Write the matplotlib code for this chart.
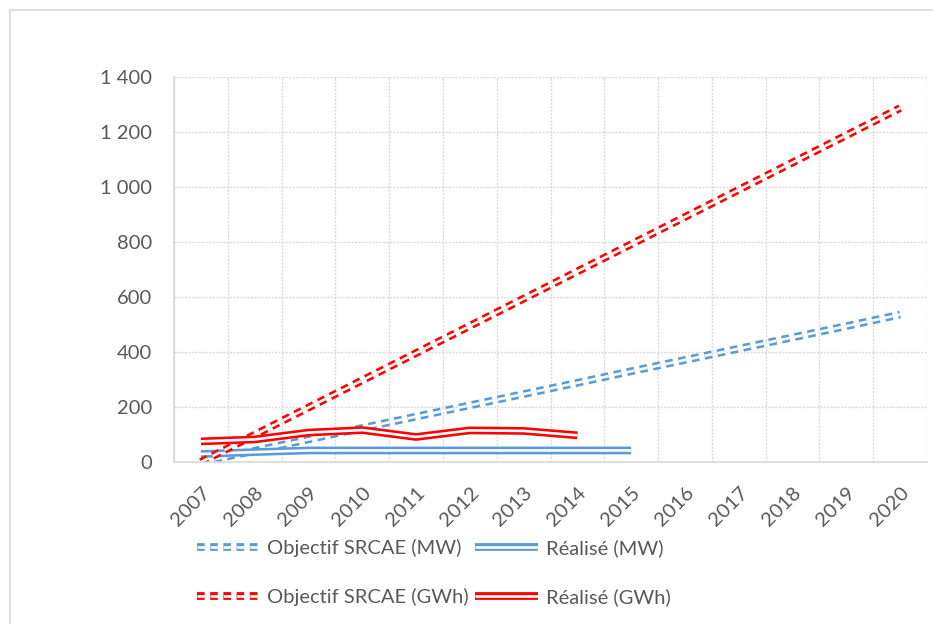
import matplotlib
matplotlib.use("Agg")
import matplotlib.pyplot as plt
import matplotlib.patheffects as pe
from matplotlib.patches import Rectangle
from matplotlib.ticker import FuncFormatter, MultipleLocator
import numpy as np

years = [str(y) for y in range(2007, 2021)]
obj_mw = [0, 41, 82, 124, 165, 206, 247, 288, 330, 371, 412, 453, 494, 536]
obj_gwh = [0, 99, 198, 297, 396, 495, 594, 693, 792, 891, 990, 1089, 1188, 1287]
real_mw = [29, 36, 42, 42, 42, 42, 42, 42, 42]            # 2007-2015
real_gwh = [75, 82, 107, 116, 91, 115, 113, 97]            # 2007-2014

BLUE = "#5B9BD5"
RED = "#FF0000"
GREY_TXT = "#595959"
GRID = "#D9D9D9"

plt.rcParams["font.family"] = ["Lato", "DejaVu Sans"]
plt.rcParams["lines.scale_dashes"] = False

fig = plt.figure(figsize=(9.33, 6.24), dpi=100)
ax = fig.add_axes([174 / 933, 1 - 462 / 624, (927 - 174) / 933, (462 - 77) / 624])

# outer chart border
fig.patches.append(Rectangle((10 / 933, -0.2), 1.2, 1.2 - 10 / 624, transform=fig.transFigure,
                             fill=False, edgecolor=GRID, linewidth=1.2))

# Excel style compound line: thick stroke with a thin white core
double = [pe.Normal(), pe.Stroke(linewidth=1.9, foreground="white")]

x_all = np.arange(len(years))
dash = (5.5, 4)
LW = 5.6

l1, = ax.plot(x_all, obj_mw, color=BLUE, lw=LW, dashes=dash, path_effects=double,
              label="Objectif SRCAE (MW)")
l2, = ax.plot(x_all[:len(real_mw)], real_mw, color=BLUE, lw=LW, path_effects=double,
              solid_capstyle="butt", solid_joinstyle="miter", label="Réalisé (MW)")
l3, = ax.plot(x_all, obj_gwh, color=RED, lw=LW, dashes=dash, path_effects=double,
              label="Objectif SRCAE (GWh)")
l4, = ax.plot(x_all[:len(real_gwh)], real_gwh, color=RED, lw=LW, path_effects=double,
              solid_capstyle="butt", solid_joinstyle="miter", label="Réalisé (GWh)")

ax.set_xlim(-0.5, len(years) - 0.5)
ax.set_ylim(0, 1400)
ax.yaxis.set_major_locator(MultipleLocator(200))
ax.yaxis.set_major_formatter(FuncFormatter(lambda v, p: f"{int(v):,}".replace(",", " ")))
ax.set_xticks(x_all)
ax.set_xticklabels(years, rotation=45, ha="right", va="top", rotation_mode="anchor")
ax.set_xticks(np.arange(-0.5, len(years), 1.0), minor=True)

ax.tick_params(axis="both", which="both", length=0, colors=GREY_TXT, labelsize=14.5)
ax.tick_params(axis="x", pad=16)
ax.tick_params(axis="y", pad=16)
ax.grid(axis="y", which="major", color=GRID, linestyle=(0, (1.5, 1)), linewidth=1)
ax.grid(axis="x", which="minor", color=GRID, linestyle=(0, (1.5, 1)), linewidth=1)
ax.set_axisbelow(True)
for s in ["top", "right"]:
    ax.spines[s].set_visible(False)
for s in ["left", "bottom"]:
    ax.spines[s].set_color(GRID)
    ax.spines[s].set_linewidth(1.2)

leg = fig.legend(handles=[l1, l3, l2, l4], ncol=2, loc="upper left",
                 bbox_to_anchor=(197 / 933, 1 - 539 / 624), frameon=False,
                 fontsize=14.5, handlelength=3.1, handletextpad=0.4, columnspacing=0.3,
                 labelspacing=1.55, borderpad=0, borderaxespad=0)
for t in leg.get_texts():
    t.set_color(GREY_TXT)

fig.savefig("out.png", dpi=100)
